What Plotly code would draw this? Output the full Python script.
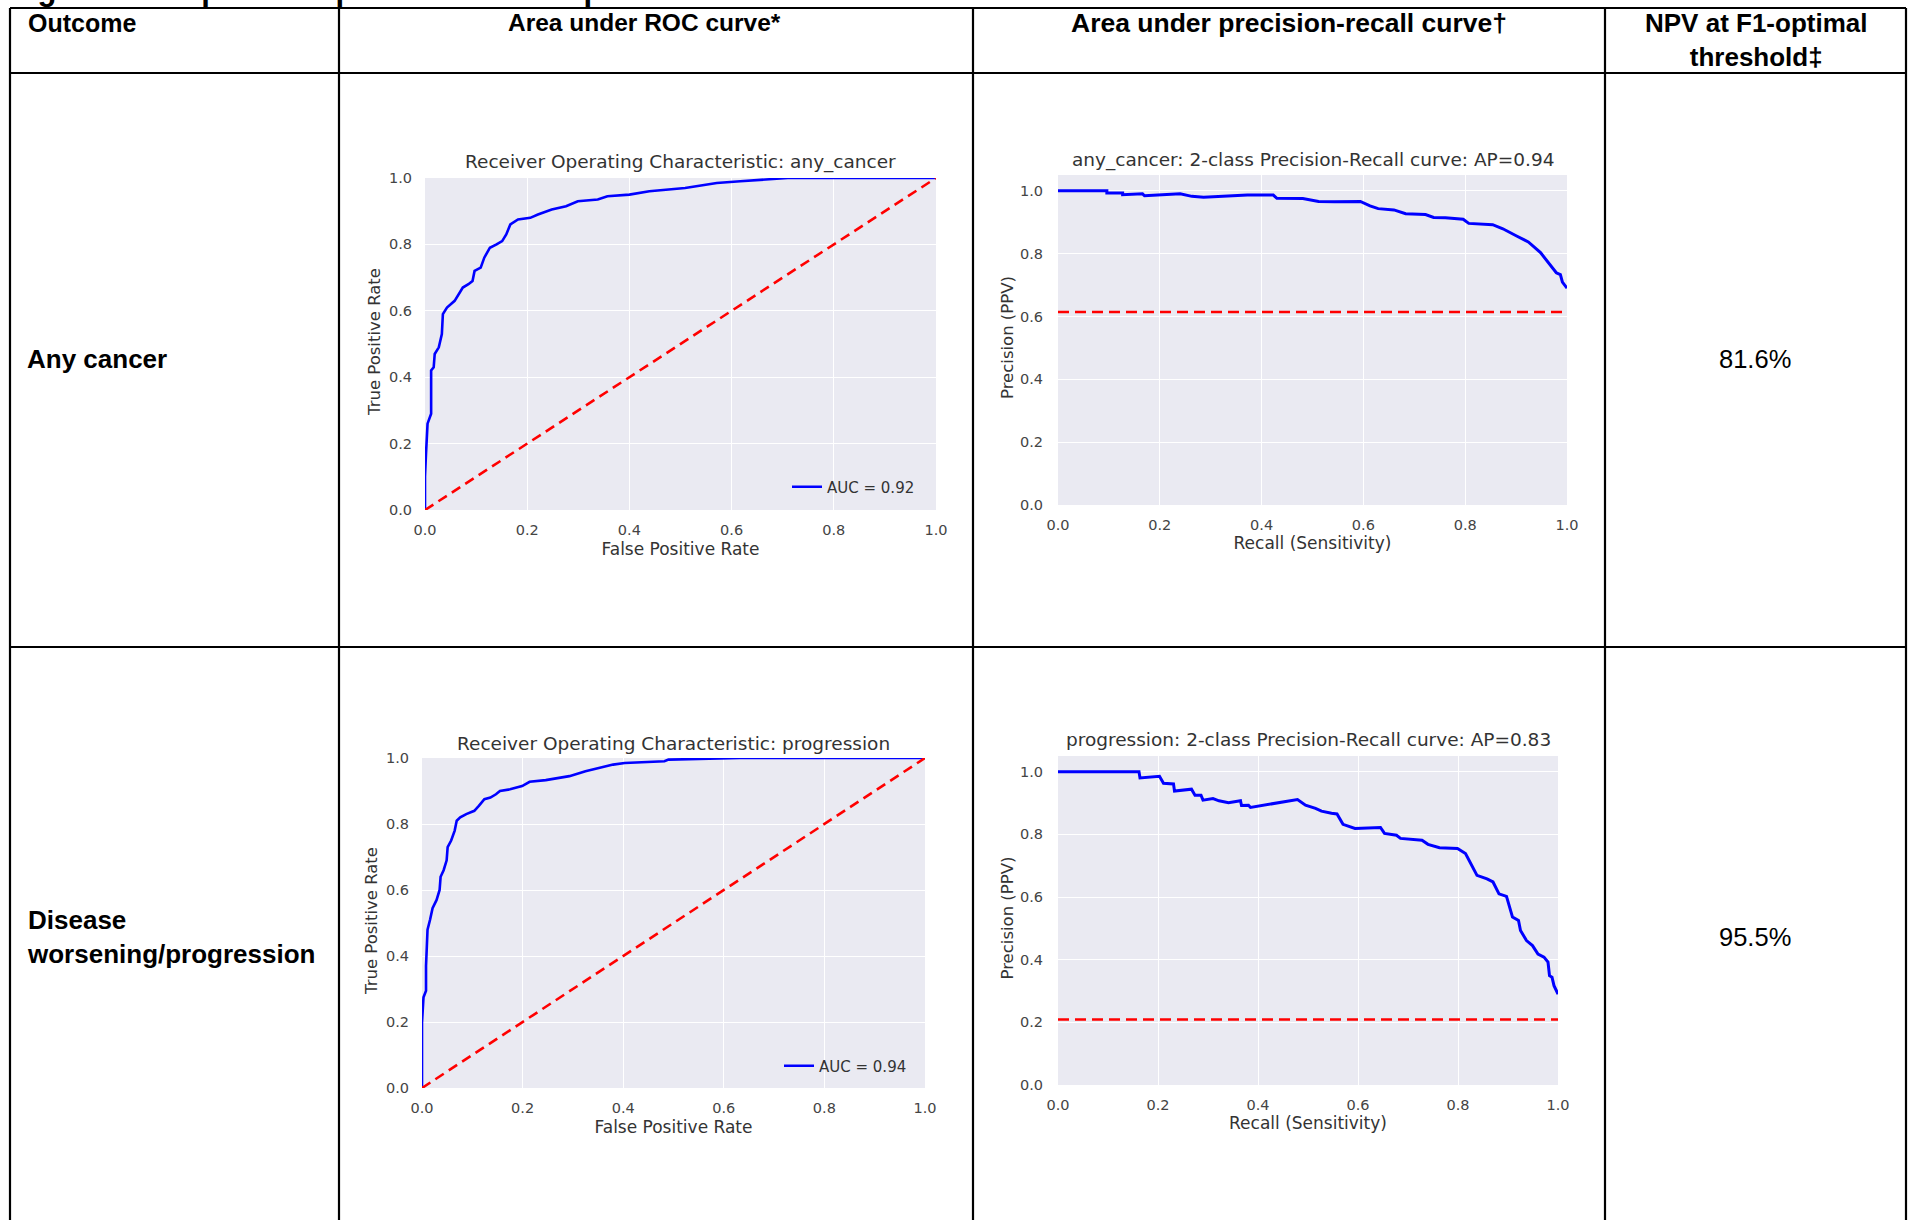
import plotly.graph_objects as go

# ---------------- data ----------------
col_headers = ["Outcome", "Area under ROC curve*", "Area under precision-recall curve\u2020",
               "NPV at F1-optimal<br>threshold\u2021"]
outcomes = ["Any cancer", "Disease<br>worsening/progression"]
npv_values = ["81.6%", "95.5%"]
roc_titles = ["Receiver Operating Characteristic: any_cancer",
              "Receiver Operating Characteristic: progression"]
pr_titles = ["any_cancer: 2-class Precision-Recall curve: AP=0.94",
             "progression: 2-class Precision-Recall curve: AP=0.83"]
auc_labels = ["AUC = 0.92", "AUC = 0.94"]
pr_baselines = [0.614, 0.209]
tick_vals = [0.0, 0.2, 0.4, 0.6, 0.8, 1.0]

roc1_fpr = [0, 0, 0.002, 0.005, 0.012, 0.012, 0.017, 0.019, 0.027, 0.033,
            0.035, 0.043, 0.058, 0.074, 0.085, 0.093, 0.097, 0.109, 0.116, 0.127,
            0.140, 0.151, 0.159, 0.167, 0.182, 0.206, 0.221, 0.248, 0.276, 0.299,
            0.338, 0.357, 0.400, 0.439, 0.509, 0.571, 0.617, 0.672, 0.710, 1.0]
roc1_tpr = [0, 0.10, 0.17, 0.26, 0.29, 0.42, 0.43, 0.47, 0.49, 0.53,
            0.59, 0.61, 0.63, 0.67, 0.68, 0.69, 0.72, 0.73, 0.76, 0.79,
            0.80, 0.81, 0.83, 0.86, 0.875, 0.88, 0.89, 0.905, 0.915, 0.93,
            0.935, 0.945, 0.95, 0.96, 0.97, 0.985, 0.99, 0.995, 1.0, 1.0]

roc2_fpr = [0, 0, 0.003, 0.008, 0.008, 0.011, 0.016, 0.021, 0.029, 0.035,
            0.037, 0.043, 0.049, 0.051, 0.058, 0.065, 0.069, 0.076, 0.088, 0.104,
            0.113, 0.124, 0.136, 0.147, 0.155, 0.175, 0.199, 0.214, 0.246, 0.266,
            0.293, 0.325, 0.356, 0.380, 0.403, 0.482, 0.490, 0.577, 0.632, 1.0]
roc2_tpr = [0, 0.198, 0.275, 0.295, 0.37, 0.48, 0.51, 0.545, 0.57, 0.60,
            0.64, 0.66, 0.69, 0.73, 0.75, 0.78, 0.81, 0.82, 0.83, 0.84,
            0.855, 0.875, 0.88, 0.89, 0.90, 0.905, 0.915, 0.928, 0.933, 0.938,
            0.945, 0.96, 0.97, 0.98, 0.985, 0.99, 0.995, 0.998, 1.0, 1.0]

pr1_recall = [0, 0.096, 0.096, 0.127, 0.127, 0.166, 0.170, 0.240, 0.263, 0.286,
              0.372, 0.423, 0.430, 0.481, 0.512, 0.543, 0.594, 0.613, 0.629, 0.660,
              0.683, 0.722, 0.738, 0.761, 0.796, 0.807, 0.854, 0.874, 0.901, 0.924,
              0.948, 0.967, 0.979, 0.987, 0.991, 1.0]
pr1_precision = [1.0, 1.0, 0.993, 0.993, 0.987, 0.990, 0.984, 0.990, 0.982, 0.979,
                 0.986, 0.986, 0.976, 0.975, 0.966, 0.965, 0.966, 0.952, 0.943, 0.939,
                 0.927, 0.924, 0.915, 0.914, 0.909, 0.896, 0.892, 0.879, 0.856, 0.837,
                 0.803, 0.765, 0.739, 0.733, 0.709, 0.690]

pr2_recall = [0, 0.162, 0.164, 0.203, 0.211, 0.231, 0.233, 0.267, 0.274, 0.286,
              0.290, 0.310, 0.322, 0.341, 0.365, 0.367, 0.381, 0.385, 0.479, 0.495,
              0.515, 0.527, 0.547, 0.558, 0.570, 0.594, 0.645, 0.653, 0.677, 0.685,
              0.728, 0.740, 0.763, 0.799, 0.815, 0.826, 0.838, 0.858, 0.870, 0.882,
              0.897, 0.909, 0.921, 0.925, 0.937, 0.949, 0.956, 0.960, 0.972, 0.980,
              0.983, 0.988, 0.992, 1.0]
pr2_precision = [1.0, 1.0, 0.980, 0.985, 0.963, 0.961, 0.938, 0.944, 0.925, 0.925,
                 0.909, 0.914, 0.907, 0.901, 0.907, 0.892, 0.893, 0.886, 0.911, 0.893,
                 0.883, 0.874, 0.867, 0.865, 0.832, 0.819, 0.822, 0.803, 0.797, 0.787,
                 0.781, 0.768, 0.757, 0.755, 0.739, 0.707, 0.669, 0.658, 0.648, 0.610,
                 0.602, 0.536, 0.525, 0.493, 0.461, 0.445, 0.429, 0.418, 0.408, 0.392,
                 0.349, 0.344, 0.317, 0.290]

# ---------------- layout helpers ----------------
W, H = 1910, 1220
def px(x):
    return x / W
def py(y):
    return 1 - y / H

# plot area boxes in pixels (left, right, top, bottom)
boxes = {
    "roc1": (425, 936, 178, 510),
    "pr1": (1058, 1567, 175, 505),
    "roc2": (422, 925, 758, 1088),
    "pr2": (1058, 1558, 756, 1085),
}

TXT = "#333333"
CHART_FONT = "DejaVu Sans"
TABLE_FONT = "Liberation Sans, Arial, sans-serif"

fig = go.Figure()

axis_names = [("roc1", "x", "y"), ("pr1", "x2", "y2"), ("roc2", "x3", "y3"), ("pr2", "x4", "y4")]

# ROC curves
for i, (fpr, tpr, key) in enumerate([(roc1_fpr, roc1_tpr, 0), (roc2_fpr, roc2_tpr, 2)]):
    xa = axis_names[key][1]
    ya = axis_names[key][2]
    fig.add_trace(go.Scatter(x=fpr, y=tpr, mode="lines", name=auc_labels[i],
                             line=dict(color="#0000FF", width=2.6),
                             xaxis=xa, yaxis=ya, legend="legend" if i == 0 else "legend2",
                             showlegend=True, hoverinfo="skip"))
    fig.add_trace(go.Scatter(x=[0, 1], y=[0, 1], mode="lines",
                             line=dict(color="#FF0000", width=2.6, dash="10px,6px"),
                             xaxis=xa, yaxis=ya, showlegend=False, hoverinfo="skip"))

# PR curves
for i, (rec, prec, key) in enumerate([(pr1_recall, pr1_precision, 1), (pr2_recall, pr2_precision, 3)]):
    xa = axis_names[key][1]
    ya = axis_names[key][2]
    fig.add_trace(go.Scatter(x=rec, y=prec, mode="lines",
                             line=dict(color="#0000FF", width=3.0),
                             xaxis=xa, yaxis=ya, showlegend=False, hoverinfo="skip"))
    fig.add_trace(go.Scatter(x=[0, 1], y=[pr_baselines[i], pr_baselines[i]], mode="lines",
                             line=dict(color="#FF0000", width=2.6, dash="11px,6px"),
                             xaxis=xa, yaxis=ya, showlegend=False, hoverinfo="skip"))

layout_axes = {}
xtitles = {"roc1": "False Positive Rate", "roc2": "False Positive Rate",
           "pr1": "Recall (Sensitivity)", "pr2": "Recall (Sensitivity)"}
ytitles = {"roc1": "True Positive Rate", "roc2": "True Positive Rate",
           "pr1": "Precision (PPV)", "pr2": "Precision (PPV)"}
for key, xa, ya in axis_names:
    l, r, t, b = boxes[key]
    is_pr = key.startswith("pr")
    xname = "xaxis" if xa == "x" else "xaxis" + xa[1:]
    yname = "yaxis" if ya == "y" else "yaxis" + ya[1:]
    common = dict(showgrid=True, gridcolor="white", gridwidth=1.4, zeroline=False,
                  showline=False, tickvals=tick_vals, tickformat=".1f",
                  ticks="outside", tickcolor="rgba(0,0,0,0)", automargin=False,
                  tickfont=dict(family=CHART_FONT, size=14.5, color="#444444"),
                  fixedrange=True)
    layout_axes[xname] = dict(common, domain=[px(l), px(r)], range=[0, 1],
                              anchor=ya, ticklen=7,
                              title=dict(text=xtitles[key], standoff=5 if not is_pr else 4,
                                         font=dict(family=CHART_FONT, size=17, color=TXT)))
    layout_axes[yname] = dict(common, domain=[py(b), py(t)],
                              range=[0, 1.05] if is_pr else [0, 1],
                              anchor=xa, ticklen=11 if is_pr else 9)

annotations = []
# chart titles
title_y = {"roc1": 162, "pr1": 160, "roc2": 743, "pr2": 739}
titles = {"roc1": roc_titles[0], "pr1": pr_titles[0], "roc2": roc_titles[1], "pr2": pr_titles[1]}
ytitle_x = {"roc1": 374, "pr1": 1007, "roc2": 371, "pr2": 1007}
for key in boxes:
    l, r, t, b = boxes[key]
    annotations.append(dict(text=titles[key], x=px((l + r) / 2), y=py(title_y[key]),
                            xref="paper", yref="paper", showarrow=False,
                            xanchor="center", yanchor="middle",
                            font=dict(family=CHART_FONT, size=18.5, color=TXT)))
    # y axis titles
    annotations.append(dict(text=ytitles[key], x=px(ytitle_x[key]), y=py((t + b) / 2 - 2),
                            xref="paper", yref="paper", showarrow=False, textangle=-90,
                            xanchor="center", yanchor="middle",
                            font=dict(family=CHART_FONT, size=16.5, color=TXT)))

# table header texts
annotations.append(dict(text="<b>" + col_headers[0] + "</b>", x=px(26), y=py(23), xref="paper", yref="paper",
                        showarrow=False, xanchor="left", yanchor="middle",
                        font=dict(family=TABLE_FONT, size=25, color="black")))
annotations.append(dict(text="<b>" + col_headers[1] + "</b>", x=px(644), y=py(23),
                        xref="paper", yref="paper", showarrow=False, xanchor="center",
                        yanchor="middle", font=dict(family=TABLE_FONT, size=24.5, color="black")))
annotations.append(dict(text="<b>" + col_headers[2] + "</b>", x=px((973 + 1605) / 2), y=py(23),
                        xref="paper", yref="paper", showarrow=False, xanchor="center",
                        yanchor="middle", font=dict(family=TABLE_FONT, size=26.5, color="black")))
annotations.append(dict(text="<b>" + col_headers[3] + "</b>", x=px((1605 + 1906) / 2), y=py(40),
                        xref="paper", yref="paper", showarrow=False, xanchor="center",
                        yanchor="middle", font=dict(family=TABLE_FONT, size=26, color="black")))

# row labels and NPV values
row_y = [359, 937]
for i in range(2):
    annotations.append(dict(text="<b>" + outcomes[i] + "</b>", x=px(25), y=py(row_y[i]),
                            xref="paper", yref="paper", showarrow=False, xanchor="left",
                            yanchor="middle", align="left",
                            font=dict(family=TABLE_FONT, size=26, color="black")))
    annotations.append(dict(text=npv_values[i], x=px(1755), y=py(row_y[i]),
                            xref="paper", yref="paper", showarrow=False, xanchor="center",
                            yanchor="middle",
                            font=dict(family=TABLE_FONT, size=25.5, color="black")))

# partially visible figure caption at the very top
annotations.append(dict(text="<b>Figure 2. Graphical depiction of model performance</b>",
                        x=px(8), y=py(9), xref="paper", yref="paper", showarrow=False,
                        xanchor="left", yanchor="bottom",
                        font=dict(family=TABLE_FONT, size=31, color="black")))

# table lines
shapes = []
lw = 2.2
for xv in [10, 339, 973, 1605, 1906]:
    shapes.append(dict(type="line", xref="paper", yref="paper", x0=px(xv), x1=px(xv),
                       y0=py(8), y1=py(1230), line=dict(color="black", width=lw)))
for yv in [8, 73, 647]:
    shapes.append(dict(type="line", xref="paper", yref="paper", x0=px(10), x1=px(1906),
                       y0=py(yv), y1=py(yv), line=dict(color="black", width=lw)))

leg_font = dict(family=CHART_FONT, size=15, color=TXT)
fig.update_layout(
    template="none",
    width=W, height=H, margin=dict(l=0, r=0, t=0, b=0, pad=0), autosize=False,
    paper_bgcolor="white", plot_bgcolor="#EAEAF2",
    annotations=annotations, shapes=shapes,
    legend=dict(x=px(787), y=py(487), xanchor="left", yanchor="middle",
                bgcolor="rgba(0,0,0,0)", font=leg_font, borderwidth=0),
    legend2=dict(x=px(779), y=py(1066), xanchor="left", yanchor="middle",
                 bgcolor="rgba(0,0,0,0)", font=leg_font, borderwidth=0),
    **layout_axes,
)

fig.write_html("out.html", config={"displayModeBar": False},
               post_script="document.body.style.margin='0';document.body.style.overflow='hidden';")
